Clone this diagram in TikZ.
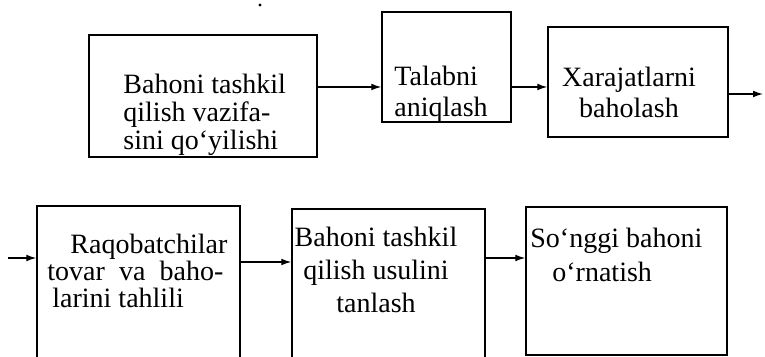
\documentclass[tikz,border=0pt]{standalone}
\usepackage{fontspec}
\setmainfont{Liberation Serif}
\usetikzlibrary{arrows.meta,fit,positioning}

\begin{document}
\begin{tikzpicture}[x=0.5pt,y=-0.5pt,
  box/.style={draw,rectangle,inner sep=0pt,line width=.7pt},
  arr/.style={-{Latex[length=5pt,width=3.4pt]},line width=.65pt},
  txt/.style={inner sep=0pt,font=\fontsize{14}{#1}\selectfont},
  txt/.default=14]
  \useasboundingbox (0,0) rectangle (765,357);
  \clip (0,0) rectangle (765,357);
  \fill (260,5) circle (.8pt);

  % upper row
  \node[box,fit={(89,35) (317,157)}] (b1) {};
  \node[box,fit={(382,12) (511,122)}] (b2) {};
  \node[box,fit={(548,27) (728,137)}] (b3) {};
  % lower row
  \node[box,fit={(37,206) (240,370)}] (b4) {};
  \node[box,fit={(292,209) (485,370)}] (b5) {};
  \node[box,fit={(526,207) (727,355)}] (b6) {};

  % texts, placed at the baseline of their last line
  \node[txt=14,anchor=base west,align=left] (t1) at (123,150) {Bahoni tashkil\\qilish vazifa-\\sini qo‘yilishi};
  \node[txt=15.5,anchor=base west,align=left] (t2) at (394,117) {Talabni\\aniqlash};
  \node[txt=15.5,anchor=base,align=center] (t3) at (629,118) {Xarajatlarni\\baholash};
  \node[txt=13.5,anchor=base west,align=left] (t4) at (47,308) {\hspace*{11.5pt}Raqobatchilar\\\makebox[88pt][s]{tovar va baho-}\\\hspace*{2.5pt}larini tahlili};
  \node[txt=16.5,anchor=base,align=center] (t5) at (376,313) {Bahoni tashkil\\qilish usulini\\tanlash};
  \node[txt=17,anchor=base west,align=left] (t6) at (530,282) {So‘nggi bahoni\\\hspace*{11pt}o‘rnatish};

  \coordinate (e3) at (763,94);
  \coordinate (s4) at (8,258);
  \draw[arr] ([yshift=4.5pt]b1.east) -- ([yshift=4.5pt]b1.east -| b2.west);
  \draw[arr] ([yshift=-10pt]b2.east) -- ([yshift=-10pt]b2.east -| b3.west);
  \draw[arr] (b3.east |- e3) -- (e3);
  \draw[arr] (s4) -- (s4 -| b4.west);
  \draw[arr] ([yshift=13pt]b4.east) -- ([yshift=13pt]b4.east -| b5.west);
  \draw[arr] ([yshift=15.75pt]b5.east) -- ([yshift=15.75pt]b5.east -| b6.west);
\end{tikzpicture}
\end{document}
